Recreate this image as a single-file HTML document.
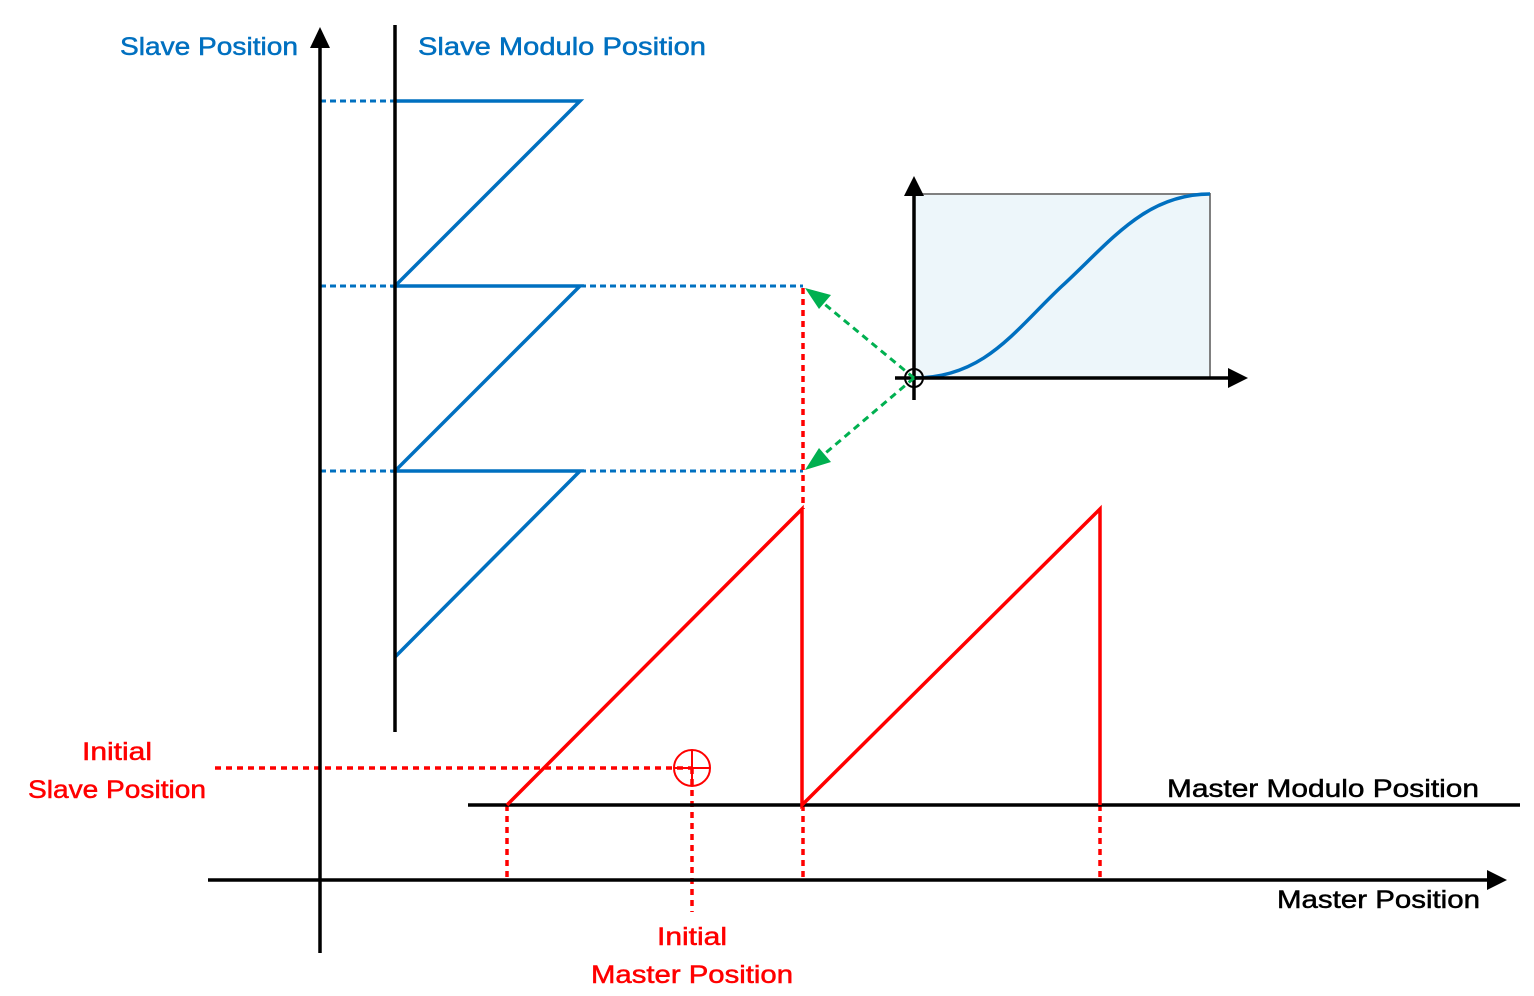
<!DOCTYPE html>
<html><head><meta charset="utf-8"><style>html,body{margin:0;padding:0;background:#fff}svg{display:block}text{font-family:"Liberation Sans",sans-serif;font-size:25px;stroke-width:0.5}</style></head>
<body>
<svg width="1534" height="996" viewBox="0 0 1534 996" xmlns="http://www.w3.org/2000/svg">
<!-- inset -->
<rect x="914" y="194" width="296" height="184" fill="#edf6fa" stroke="#808080" stroke-width="2"/>
<path d="M914,378 C985,378 1015,330 1062,286 C1110,242 1145,194 1210,194" fill="none" stroke="#0070c0" stroke-width="3.5"/>
<line x1="914" y1="400" x2="914" y2="192" stroke="#000" stroke-width="3.5"/>
<path d="M914,176 l-10,20 l20,0z" fill="#000"/>
<line x1="895" y1="378" x2="1230" y2="378" stroke="#000" stroke-width="3.5"/>
<path d="M1228,368 l20,10 l-20,10z" fill="#000"/>
<circle cx="914" cy="378" r="9" fill="none" stroke="#000" stroke-width="2"/>
<line x1="914" y1="378" x2="822" y2="302" stroke="#00b050" stroke-width="3" stroke-dasharray="7,5"/>
<path d="M805,288 l26,7 l-12,14z" fill="#00b050"/>
<line x1="914" y1="378" x2="822" y2="456" stroke="#00b050" stroke-width="3" stroke-dasharray="7,5"/>
<path d="M805,470 l14,-22 l12,14z" fill="#00b050"/>
<!-- blue dotted -->
<g stroke="#0070c0" stroke-width="3" stroke-dasharray="6,4" fill="none">
<line x1="320" y1="101" x2="395" y2="101"/>
<line x1="320" y1="286" x2="803" y2="286"/>
<line x1="320" y1="471" x2="803" y2="471"/>
</g>
<!-- red dotted -->
<g stroke="#ff0000" stroke-width="3.5" stroke-dasharray="6,5" fill="none">
<line x1="803" y1="288" x2="803" y2="509"/>
<line x1="507" y1="805" x2="507" y2="880"/>
<line x1="803" y1="805" x2="803" y2="880"/>
<line x1="1100" y1="805" x2="1100" y2="880"/>
<line x1="215" y1="768" x2="692" y2="768"/>
<line x1="692" y1="768" x2="692" y2="912"/>
</g>
<circle cx="692" cy="768" r="18" fill="none" stroke="#ff0000" stroke-width="2"/>
<line x1="674" y1="768" x2="710" y2="768" stroke="#ff0000" stroke-width="2"/>
<line x1="692" y1="750" x2="692" y2="786" stroke="#ff0000" stroke-width="2"/>
<!-- blue sawtooth -->
<path d="M395,657 L580,471 L395,471 L580,286 L395,286 L580,101 L395,101" fill="none" stroke="#0070c0" stroke-width="3.5"/>
<!-- axes -->
<line x1="320" y1="953" x2="320" y2="45" stroke="#000" stroke-width="3.5"/>
<path d="M310,48 l10,-21 l10,21z" fill="#000"/>
<line x1="395" y1="25" x2="395" y2="732" stroke="#000" stroke-width="3.5"/>
<line x1="208" y1="880" x2="1490" y2="880" stroke="#000" stroke-width="3.5"/>
<path d="M1487,870 l20,10 l-20,10z" fill="#000"/>
<line x1="468" y1="805" x2="1520" y2="805" stroke="#000" stroke-width="3.5"/>
<!-- red sawtooth -->
<path d="M507,805 L802,509 L802,805 L1100,509 L1100,805" fill="none" stroke="#ff0000" stroke-width="3.5"/>
<!-- text -->
<text x="120" y="55" fill="#0070c0" stroke="#0070c0" textLength="178" lengthAdjust="spacingAndGlyphs">Slave Position</text>
<text x="418" y="55" fill="#0070c0" stroke="#0070c0" textLength="288" lengthAdjust="spacingAndGlyphs">Slave Modulo Position</text>
<text x="82" y="760" fill="#ff0000" stroke="#ff0000" textLength="70" lengthAdjust="spacingAndGlyphs">Initial</text>
<text x="28" y="798" fill="#ff0000" stroke="#ff0000" textLength="178" lengthAdjust="spacingAndGlyphs">Slave Position</text>
<text x="657" y="945" fill="#ff0000" stroke="#ff0000" textLength="70" lengthAdjust="spacingAndGlyphs">Initial</text>
<text x="591" y="983" fill="#ff0000" stroke="#ff0000" textLength="202" lengthAdjust="spacingAndGlyphs">Master Position</text>
<text x="1167" y="797" fill="#000" stroke="#000" textLength="312" lengthAdjust="spacingAndGlyphs">Master Modulo Position</text>
<text x="1277" y="908" fill="#000" stroke="#000" textLength="203" lengthAdjust="spacingAndGlyphs">Master Position</text>
</svg>
</body></html>
